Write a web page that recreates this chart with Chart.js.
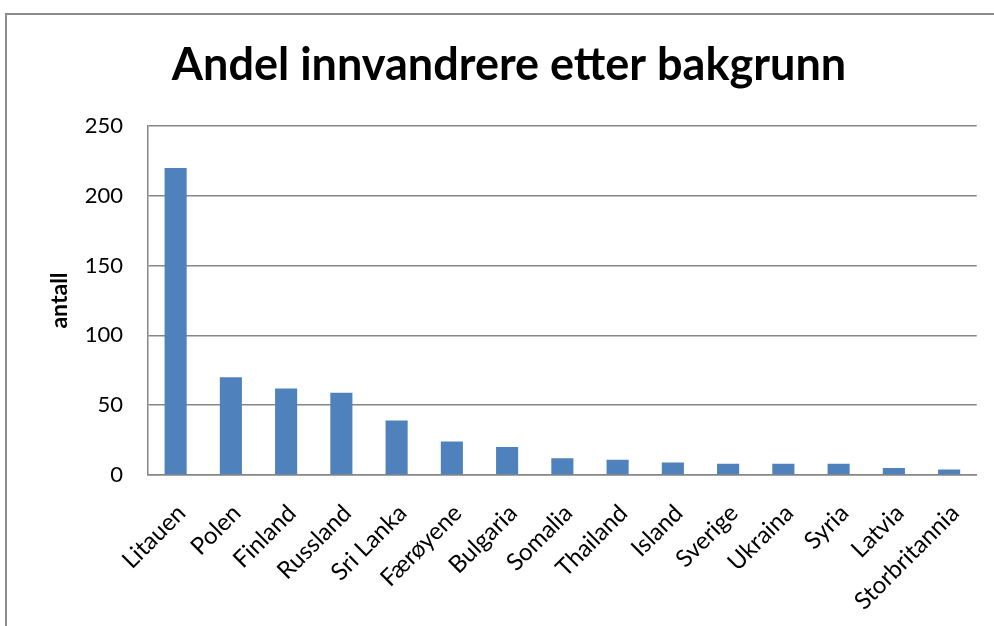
<!DOCTYPE html>
<html><head><meta charset="utf-8">
<script src="https://cdn.jsdelivr.net/npm/chart.js@4/dist/chart.umd.min.js"></script>
<style>
html,body{margin:0;padding:0;background:#fff;overflow:hidden}
#wrap{position:relative;width:994px;height:626px}
#frame{position:absolute;left:5px;top:13px;width:1100px;height:700px;border:2px solid #8c8c8c;box-sizing:border-box;pointer-events:none}
canvas{position:absolute;left:0;top:0}
</style></head><body>
<div id="wrap"><canvas id="c" width="994" height="626"></canvas><div id="frame"></div></div>
<script>
const categories = ["Litauen","Polen","Finland","Russland","Sri Lanka","Færøyene","Bulgaria","Somalia","Thailand","Island","Sverige","Ukraina","Syria","Latvia","Storbritannia"];
const values = [220,70,62,59,39,24,20,12,11,9,8,8,8,5,4];
const chartTitle = "Andel innvandrere etter bakgrunn";
const yTitle = "antall";

new Chart(document.getElementById('c'), {
  type: 'bar',
  data: { labels: categories, datasets: [{ data: values, backgroundColor: '#4F81BD', barPercentage: 0.4, categoryPercentage: 1.0 }] },
  options: {
    responsive: false, animation: false,
    layout: { padding: { left: 40, right: 16, top: 0, bottom: 0 } },
    plugins: {
      legend: { display: false }, tooltip: { enabled: false },
      title: { display: true, text: chartTitle, color: '#000', font: { family: 'Lato', size: 45, weight: 'bold', lineHeight: 1.2 }, padding: { top: 38, bottom: 34 } }
    },
    scales: {
      y: {
        min: 0, max: 250,
        ticks: { stepSize: 50, color: '#000', font: { family: 'Lato', size: 22 }, padding: 25 },
        grid: { color: '#868686', lineWidth: 1.5, drawTicks: false },
        border: { color: '#868686', width: 1.5 },
        title: { display: true, text: yTitle, color: '#000', font: { family: 'Lato', size: 23, weight: 'bold', lineHeight: 1.2 }, padding: { top: 6, bottom: 0 } },
        afterFit: s => { s.width = 108; }
      },
      x: {
        ticks: { color: '#000', font: { family: 'Lato', size: 24 }, maxRotation: 45, minRotation: 45, padding: 24, labelOffset: 6, autoSkip: false },
        grid: { display: false, drawTicks: false },
        border: { color: '#868686', width: 1.5 },
        afterFit: s => { s.height = 151; }
      }
    }
  }
});
</script>
</body></html>
